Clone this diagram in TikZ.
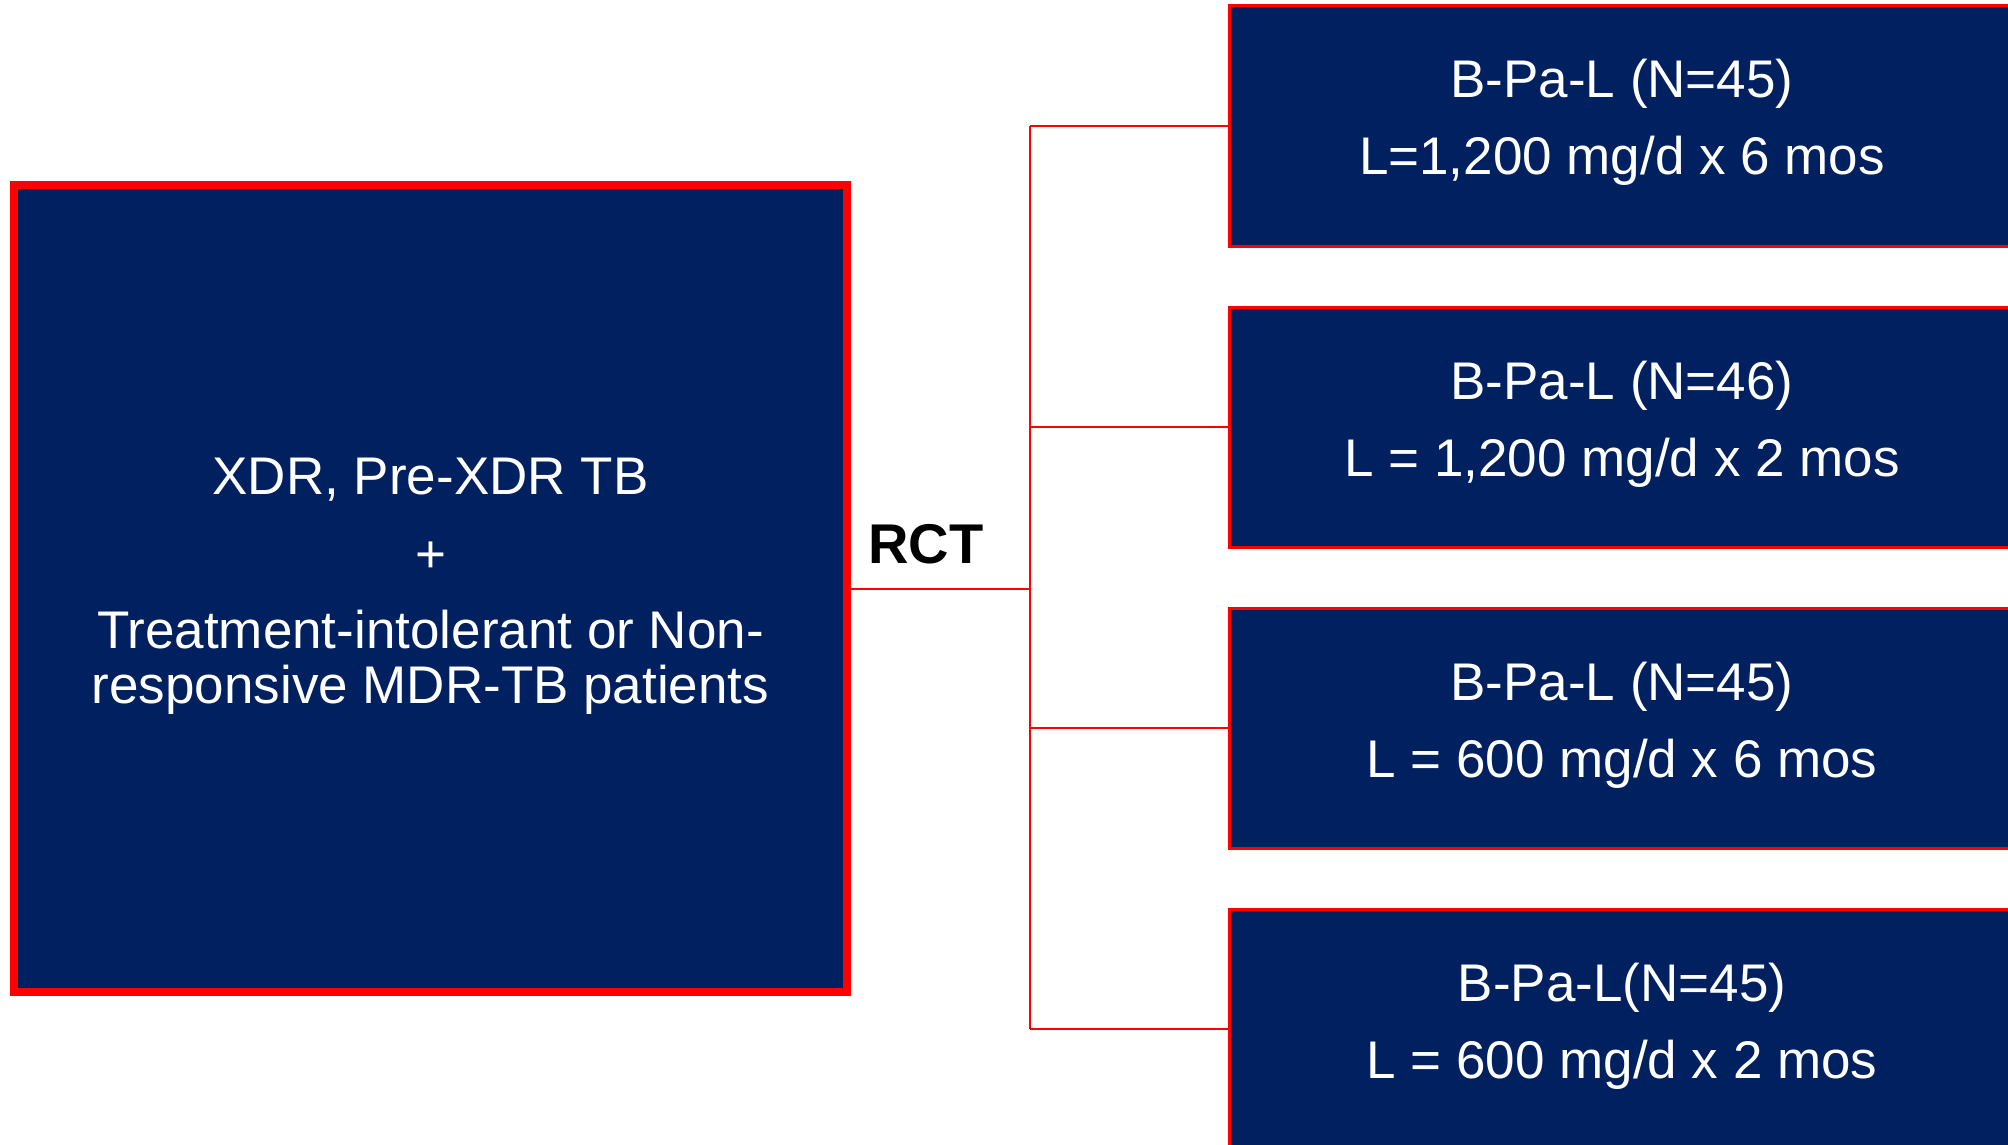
\documentclass[tikz,border=0pt]{standalone}
\usepackage{fontspec}
\setmainfont{Liberation Sans}
\definecolor{navy}{HTML}{002060}
\definecolor{tred}{HTML}{FF0000}
\begin{document}
\begin{tikzpicture}[x=1pt,y=-1pt,
  srcbox/.style={draw=tred, line width=8pt, fill=navy, inner sep=0pt,
    minimum width=833pt, minimum height=807pt},
  armbox/.style={draw=tred, line width=3pt, fill=navy, inner sep=0pt,
    minimum width=790pt, minimum height=240pt, anchor=west},
  link/.style={draw=tred, line width=2pt},
  wtext/.style={text=white, font=\fontsize{53}{60}\selectfont, anchor=base, inner sep=0pt},
  rcttext/.style={text=black, font=\fontsize{56}{60}\selectfont\bfseries, anchor=base, inner sep=0pt}
]
\useasboundingbox (0,0) rectangle (2008,1145);
\begin{scope}
\clip (0,0) rectangle (2008,1145);

% population box
\node[srcbox] (src) at (430.5,588.5) {};
\node[wtext] (s1) at (430.5,494) {XDR, Pre-XDR TB};
\node[wtext] (s2) at (430.5,572) {+};
\node[wtext] (s3) at (430.5,648) {Treatment-intolerant or Non-};
\node[wtext] (s4) at (430.5,703) {responsive MDR-TB patients};

% treatment arms
\node[armbox] (a1) at (1227.5,126) {};
\node[armbox] (a2) at (1227.5,427) {};
\node[armbox] (a3) at (1227.5,728) {};
\node[armbox] (a4) at (1227.5,1029) {};

\node[wtext] (a1t) at (1622,98)  {B-Pa-L (N=45)};
\node[wtext] (a1d) at (1622,175) {L=1,200 mg/d x 6 mos};
\node[wtext] (a2t) at (1622,399) {B-Pa-L (N=46)};
\node[wtext] (a2d) at (1622,476) {L = 1,200 mg/d x 2 mos};
\node[wtext] (a3t) at (1622,700) {B-Pa-L (N=45)};
\node[wtext] (a3d) at (1622,777) {L = 600 mg/d x 6 mos};
\node[wtext] (a4t) at (1622,1001) {B-Pa-L(N=45)};
\node[wtext] (a4d) at (1622,1078) {L = 600 mg/d x 2 mos};

% randomisation tree
\coordinate (hub) at (1030,588.5);
\draw[link] (src.east) -- (hub);
\draw[link] (hub |- a1.west) -- (hub |- a4.west);
\foreach \a in {a1,a2,a3,a4}
  \draw[link] (hub |- \a.west) -- (\a.west);

\node[rcttext] (rct) at (926,563) {RCT};
\end{scope}
\end{tikzpicture}
\end{document}
